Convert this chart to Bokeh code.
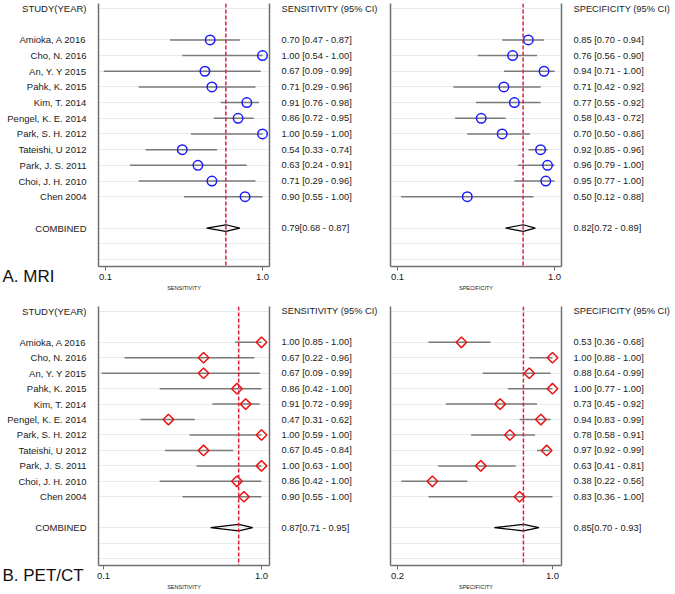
import numpy as np
from bokeh.plotting import figure
from bokeh.models import (Range1d, FixedTicker, LinearAxis, Span, Grid, Title,
                          PrintfTickFormatter)
from bokeh.core.properties import value
from bokeh.layouts import column, row
from bokeh.embed import file_html
from bokeh.resources import INLINE

studies = ["Amioka, A 2016", "Cho, N. 2016", "An, Y. Y 2015", "Pahk, K. 2015",
           "Kim, T. 2014", "Pengel, K. E. 2014", "Park, S. H. 2012",
           "Tateishi, U 2012", "Park, J. S. 2011", "Choi, J. H. 2010", "Chen 2004"]

mri_sens = [0.70, 1.00, 0.67, 0.71, 0.91, 0.86, 1.00, 0.54, 0.63, 0.71, 0.90]
mri_sens_lo = [0.47, 0.54, 0.09, 0.29, 0.76, 0.72, 0.59, 0.33, 0.24, 0.29, 0.55]
mri_sens_hi = [0.87, 1.00, 0.99, 0.96, 0.98, 0.95, 1.00, 0.74, 0.91, 0.96, 1.00]
mri_sens_pooled = [0.79, 0.68, 0.87]

mri_spec = [0.85, 0.76, 0.94, 0.71, 0.77, 0.58, 0.70, 0.92, 0.96, 0.95, 0.50]
mri_spec_lo = [0.70, 0.56, 0.71, 0.42, 0.55, 0.43, 0.50, 0.85, 0.79, 0.77, 0.12]
mri_spec_hi = [0.94, 0.90, 1.00, 0.92, 0.92, 0.72, 0.86, 0.96, 1.00, 1.00, 0.88]
mri_spec_pooled = [0.82, 0.72, 0.89]

pet_sens = [1.00, 0.67, 0.67, 0.86, 0.91, 0.47, 1.00, 0.67, 1.00, 0.86, 0.90]
pet_sens_lo = [0.85, 0.22, 0.09, 0.42, 0.72, 0.31, 0.59, 0.45, 0.63, 0.42, 0.55]
pet_sens_hi = [1.00, 0.96, 0.99, 1.00, 0.99, 0.62, 1.00, 0.84, 1.00, 1.00, 1.00]
pet_sens_pooled = [0.87, 0.71, 0.95]

pet_spec = [0.53, 1.00, 0.88, 1.00, 0.73, 0.94, 0.78, 0.97, 0.63, 0.38, 0.83]
pet_spec_lo = [0.36, 0.88, 0.64, 0.77, 0.45, 0.83, 0.58, 0.92, 0.41, 0.22, 0.36]
pet_spec_hi = [0.68, 1.00, 0.99, 1.00, 0.92, 0.99, 0.91, 0.99, 0.81, 0.56, 1.00]
pet_spec_pooled = [0.85, 0.70, 0.93]

study_rows = list(range(2, 13))
combined_row = 14
grid_rows = [0] + study_rows + [14, 15, 16]
label_rows = [0] + study_rows + [combined_row]
Y_TOP, Y_BOT = -0.32, 16.45

FONT = "Liberation Sans"
TXT = "#1a1a1a"
FRAME = "#707070"
NW = 96


def names_fig(H, bt, bb, label):
    p = figure(width=NW, height=H, x_range=Range1d(0, NW),
               y_range=Range1d(Y_BOT, Y_TOP), output_backend="svg",
               toolbar_location=None, x_axis_location=None,
               y_axis_location=None, min_border_left=0, min_border_right=0,
               min_border_top=bt, min_border_bottom=bb)
    p.outline_line_color = None
    p.grid.visible = False
    texts = ["STUDY(YEAR)"] + studies + ["COMBINED"]
    p.text(x=[86] * len(label_rows), y=label_rows, text=texts,
           text_align="right", text_baseline="middle",
           text_font=value(FONT), text_font_size="9.5px", text_color=TXT)
    p.add_layout(Title(text=label, align="left", offset=2, standoff=0,
                       vertical_align="top", text_font=FONT,
                       text_font_size="17px", text_font_style="normal",
                       text_color="#111111"), "below")
    return p


def forest(est, lo, hi, pooled, xr, xticks, xlabel, marker, color,
           w, h, bl, br, bt, bb, ci_header):
    p = figure(width=w, height=h, x_range=Range1d(*xr),
               y_range=Range1d(Y_BOT, Y_TOP), output_backend="svg",
               toolbar_location=None, y_axis_location=None,
               x_axis_location="below",
               min_border_left=bl, min_border_right=br,
               min_border_top=bt, min_border_bottom=bb)
    p.outline_line_color = None
    p.background_fill_color = "white"
    p.border_fill_color = "white"
    p.grid.visible = False
    g = Grid(dimension=1, ticker=FixedTicker(ticks=grid_rows),
             grid_line_color="#e4eded", grid_line_width=1)
    p.add_layout(g, "center")

    # left frame line
    lax = LinearAxis(ticker=FixedTicker(ticks=[]),
                     major_label_text_font_size="0px", major_label_standoff=0,
                     axis_line_color=FRAME, axis_line_width=1.5,
                     major_tick_line_color=None, minor_tick_line_color=None,
                     major_tick_out=0, major_tick_in=0)
    p.add_layout(lax, "left")

    # right axis with CI text
    ov = {0: ci_header}
    for r, e, l, u in zip(study_rows, est, lo, hi):
        ov[r] = f"{e:.2f} [{l:.2f} - {u:.2f}]"
    ov[combined_row] = f"{pooled[0]:.2f}[{pooled[1]:.2f} - {pooled[2]:.2f}]"
    rax = LinearAxis(ticker=FixedTicker(ticks=label_rows),
                     major_label_overrides=ov, major_label_standoff=12,
                     major_label_text_font=FONT, major_label_text_font_size="9.3px",
                     major_label_text_color=TXT,
                     axis_line_color=FRAME, axis_line_width=1.5,
                     major_tick_line_color=None, minor_tick_line_color=None,
                     major_tick_out=0, major_tick_in=0)
    p.add_layout(rax, "right")

    # bottom axis
    xa = p.xaxis[0]
    xa.ticker = FixedTicker(ticks=xticks)
    xa.formatter = PrintfTickFormatter(format="%.1f")
    xa.axis_line_color = FRAME
    xa.axis_line_width = 1.3
    xa.major_tick_line_color = FRAME
    xa.major_tick_out = 4
    xa.major_tick_in = 0
    xa.minor_tick_line_color = None
    xa.major_label_standoff = 3
    xa.major_label_text_font = FONT
    xa.major_label_text_font_size = "9.5px"
    xa.major_label_text_color = TXT
    xa.axis_label = xlabel
    xa.axis_label_text_font = FONT
    xa.axis_label_text_font_size = "5.5px"
    xa.axis_label_text_font_style = "normal"
    xa.axis_label_text_color = TXT
    xa.axis_label_standoff = 2

    p.segment(x0=lo, y0=study_rows, x1=hi, y1=study_rows,
              line_color="#7a7a7a", line_width=1.5)
    if marker == "circle":
        p.scatter(x=est, y=study_rows, marker="circle", size=9.5,
                  fill_color=None, line_color=color, line_width=1.5)
    else:
        p.scatter(x=est, y=study_rows, marker="square", angle=np.pi / 4,
                  size=7.5, fill_color=None, line_color=color, line_width=1.5)

    hh = 0.21
    p.patch(x=[pooled[1], pooled[0], pooled[2], pooled[0]],
            y=[combined_row, combined_row - hh, combined_row, combined_row + hh],
            fill_color=None, line_color="black", line_width=1.2)

    p.add_layout(Span(location=pooled[0], dimension="height",
                      line_color="#dc1f3f", line_dash="4 2", line_width=1.5))
    return p


W1, W2 = 288, 289
HA, BTA, BBA = 305, 3, 39
HB, BTB, BBB = 287, 1, 25

a0 = names_fig(HA, BTA, BBA, "A. MRI")
a1 = forest(mri_sens, mri_sens_lo, mri_sens_hi, mri_sens_pooled,
            (0.0599, 1.0401), [0.1, 1.0], "SENSITIVITY", "circle", "#1a1aff",
            W1, HA, 2, 115, BTA, BBA, "SENSITIVITY (95% CI)")
a2 = forest(mri_spec, mri_spec_lo, mri_spec_hi, mri_spec_pooled,
            (0.0599, 1.0401), [0.1, 1.0], "SPECIFICITY", "circle", "#1a1aff",
            W2, HA, 6, 112, BTA, BBA, "SPECIFICITY (95% CI)")
b0 = names_fig(HB, BTB, BBB, "B. PET/CT")
b1 = forest(pet_sens, pet_sens_lo, pet_sens_hi, pet_sens_pooled,
            (0.0715, 1.0456), [0.1, 1.0], "SENSITIVITY", "diamond", "#ee1111",
            W1, HB, 2, 115, BTB, BBB, "SENSITIVITY (95% CI)")
b2 = forest(pet_spec, pet_spec_lo, pet_spec_hi, pet_spec_pooled,
            (0.1639, 1.0465), [0.2, 1.0], "SPECIFICITY", "diamond", "#ee1111",
            W2, HB, 6, 112, BTB, BBB, "SPECIFICITY (95% CI)")

layout = column(row(a0, a1, a2), row(b0, b1, b2))
open("out.html", "w").write(file_html(layout, INLINE))
